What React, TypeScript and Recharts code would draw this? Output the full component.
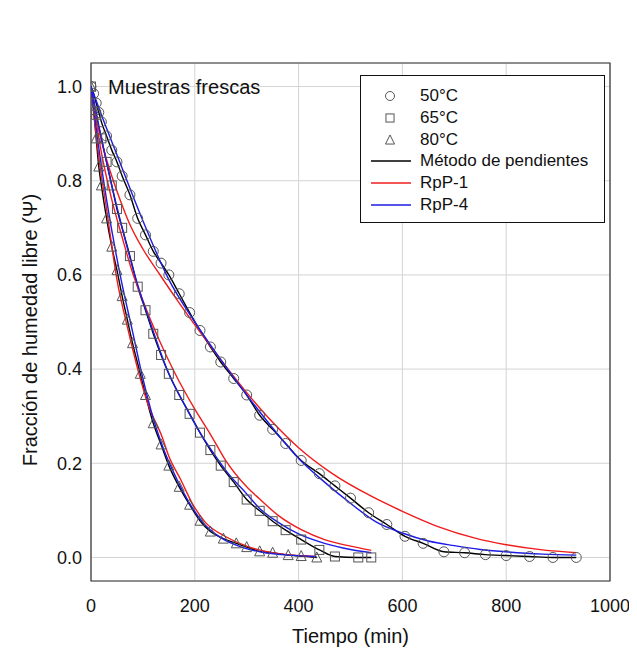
import React from 'react';
import {
  ComposedChart,
  Line,
  Scatter,
  XAxis,
  YAxis,
  CartesianGrid,
  Legend,
  ReferenceArea,
  ReferenceDot,
} from 'recharts';

const FONT = '"Liberation Sans", Arial, sans-serif';
const RED = '#f01c1c';
const BLUE = '#1c1ce6';
const MARKER = '#555';

const xTicks = [0, 200, 400, 600, 800, 1000];
const yTicks = [0, 0.2, 0.4, 0.6, 0.8, 1.0];

// datos experimentales (Ψ vs tiempo)
const t50 = [0, 5, 10, 15, 20, 30, 40, 50, 60, 75, 90, 105, 120, 135, 150, 170, 190, 210, 230, 250, 275, 300, 325, 350, 375, 405, 440, 470, 500, 535, 570, 605, 640, 680, 720, 760, 800, 845, 890, 935];
const psi50 = [1.0, 0.985, 0.965, 0.945, 0.925, 0.895, 0.865, 0.84, 0.81, 0.77, 0.72, 0.685, 0.65, 0.625, 0.6, 0.56, 0.52, 0.482, 0.447, 0.415, 0.38, 0.345, 0.302, 0.272, 0.242, 0.206, 0.178, 0.152, 0.126, 0.095, 0.07, 0.045, 0.03, 0.012, 0.01, 0.006, 0.004, 0.002, 0.0, 0.0];

const t65 = [0, 10, 20, 30, 40, 50, 60, 75, 90, 105, 120, 135, 150, 170, 190, 210, 230, 250, 275, 300, 325, 350, 375, 405, 440, 470, 515, 540];
const psi65 = [1.0, 0.94, 0.89, 0.84, 0.79, 0.74, 0.7, 0.64, 0.575, 0.525, 0.475, 0.43, 0.39, 0.345, 0.305, 0.265, 0.228, 0.195, 0.16, 0.123, 0.099, 0.077, 0.058, 0.038, 0.016, 0.002, 0.0, 0.0];

const t80 = [0, 5, 10, 15, 20, 30, 40, 50, 60, 70, 80, 95, 105, 120, 135, 150, 170, 190, 210, 230, 255, 280, 300, 325, 350, 380, 405, 435];
const psi80 = [1.0, 0.95, 0.89, 0.83, 0.79, 0.72, 0.66, 0.61, 0.555, 0.505, 0.455, 0.39, 0.345, 0.285, 0.24, 0.195, 0.15, 0.112, 0.078, 0.055, 0.04, 0.03, 0.022, 0.013, 0.01, 0.005, 0.003, 0.0];

// modelo RpP-1
const tRed50 = [0, 10, 20, 40, 60, 73, 100, 130, 160, 200, 250, 300, 350, 400, 465, 540, 600, 670, 740, 800, 870, 935];
const red50 = [1.0, 0.935, 0.885, 0.81, 0.748, 0.712, 0.655, 0.605, 0.556, 0.494, 0.42, 0.35, 0.287, 0.233, 0.178, 0.13, 0.098, 0.065, 0.041, 0.027, 0.016, 0.01];
const tRed65 = [0, 20, 40, 60, 80, 100, 130, 160, 200, 231, 260, 300, 324, 360, 407, 450, 500, 540];
const red65 = [1.0, 0.86, 0.76, 0.68, 0.605, 0.545, 0.465, 0.395, 0.315, 0.26, 0.205, 0.15, 0.125, 0.09, 0.058, 0.038, 0.024, 0.015];
const tRed80 = [0, 15, 30, 50, 70, 90, 110, 137, 150, 173, 195, 220, 260, 300, 324, 370, 434];
const red80 = [1.0, 0.85, 0.74, 0.59, 0.49, 0.4, 0.325, 0.256, 0.215, 0.165, 0.115, 0.075, 0.044, 0.024, 0.016, 0.007, 0.002];

// modelo RpP-4
const tBlue50 = [0, 20, 50, 100, 150, 200, 250, 300, 350, 400, 450, 500, 550, 600, 650, 700, 750, 800, 870, 935];
const blue50 = [1.0, 0.94, 0.855, 0.715, 0.59, 0.5, 0.42, 0.345, 0.275, 0.21, 0.16, 0.115, 0.075, 0.052, 0.035, 0.025, 0.017, 0.012, 0.007, 0.005];
const tBlue65 = [0, 20, 40, 60, 87, 120, 150, 180, 210, 240, 263, 300, 324, 360, 400, 450, 500, 540];
const blue65 = [1.0, 0.89, 0.79, 0.7, 0.59, 0.48, 0.39, 0.325, 0.265, 0.215, 0.18, 0.135, 0.105, 0.075, 0.05, 0.03, 0.017, 0.01];
const tBlue80 = [0, 15, 30, 58, 80, 100, 120, 140, 166, 190, 215, 250, 290, 330, 380, 434];
const blue80 = [1.0, 0.87, 0.76, 0.59, 0.48, 0.38, 0.295, 0.23, 0.165, 0.115, 0.075, 0.042, 0.022, 0.011, 0.005, 0.002];

const legendItems = [
  { label: '50°C', marker: 'circle' },
  { label: '65°C', marker: 'square' },
  { label: '80°C', marker: 'triangle' },
  { label: 'Método de pendientes', color: '#000' },
  { label: 'RpP-1', color: RED },
  { label: 'RpP-4', color: BLUE },
];

const zip = (ts: number[], vs: number[]) => ts.map((t, i) => ({ t, v: vs[i] }));

const obs = [
  { key: '50', data: zip(t50, psi50), marker: 'circle' },
  { key: '65', data: zip(t65, psi65), marker: 'square' },
  { key: '80', data: zip(t80, psi80), marker: 'triangle' },
];
const redFits = [zip(tRed50, red50), zip(tRed65, red65), zip(tRed80, red80)];
const blueFits = [zip(tBlue50, blue50), zip(tBlue65, blue65), zip(tBlue80, blue80)];

const drawMarker = (kind: string, cx: number, cy: number, s = 1) => {
  const common = { fill: 'none', stroke: MARKER, strokeWidth: 1 };
  if (kind === 'circle') return <circle cx={cx} cy={cy} r={5 * s} {...common} />;
  if (kind === 'square') return <rect x={cx - 4.5 * s} y={cy - 4.5 * s} width={9 * s} height={9 * s} {...common} />;
  const h = 9 * s;
  return (
    <polygon
      points={`${cx},${cy - h / 2 - 1} ${cx - 5 * s},${cy + h / 2} ${cx + 5 * s},${cy + h / 2}`}
      {...common}
    />
  );
};

const LegendBox = () => (
  <div
    style={{
      position: 'relative',
      width: 245,
      height: 148,
      boxSizing: 'border-box',
      border: '1.5px solid #111',
      background: '#fff',
      fontFamily: FONT,
      fontSize: 17,
      color: '#111',
    }}
  >
    {legendItems.map((item, i) => (
      <div key={item.label} style={{ position: 'absolute', left: 0, top: 9 + i * 21.8, height: 22, width: 240 }}>
        <svg width={56} height={22} style={{ position: 'absolute', left: 0, top: 0 }}>
          {item.marker
            ? drawMarker(item.marker, 29, 11, 0.9)
            : <line x1={10} x2={50} y1={11} y2={11} stroke={item.color} strokeWidth={1.5} />}
        </svg>
        <span style={{ position: 'absolute', left: 59, top: 0, lineHeight: '22px', whiteSpace: 'nowrap' }}>
          {item.label}
        </span>
      </div>
    ))}
  </div>
);

const App = () => {
  return (
    <ComposedChart
      width={629}
      height={646}
      margin={{ top: 55, right: 27, bottom: 0, left: 0 }}
      style={{ fontFamily: FONT }}
    >
      <CartesianGrid stroke='#d4d4d4' strokeWidth={1} />
      <XAxis
        type='number'
        dataKey='t'
        domain={[0, 1000]}
        ticks={xTicks}
        allowDataOverflow
        height={73}
        axisLine={false}
        tickLine={false}
        tickMargin={12}
        tick={{ fill: '#111', fontSize: 18, fontFamily: FONT }}
        label={{
          content: (p: any) => (
            <text
              x={p.viewBox.x + p.viewBox.width / 2}
              y={p.viewBox.y + 55}
              textAnchor='middle'
              dominantBaseline='central'
              fill='#111'
              fontSize={20}
              fontFamily={FONT}
            >
              Tiempo (min)
            </text>
          ),
        }}
      />
      <YAxis
        type='number'
        domain={[-0.05, 1.05]}
        ticks={yTicks}
        allowDataOverflow
        width={83}
        axisLine={false}
        tickLine={false}
        tickMargin={3}
        tickFormatter={(v: number) => v.toFixed(1)}
        tick={{ fill: '#111', fontSize: 18, fontFamily: FONT }}
        label={{
          content: (p: any) => {
            const x = p.viewBox.x + 21.5;
            const y = p.viewBox.y + p.viewBox.height / 2 + 8;
            return (
              <text
                x={x}
                y={y}
                transform={`rotate(-90 ${x} ${y})`}
                textAnchor='middle'
                dominantBaseline='central'
                fill='#111'
                fontSize={20}
                fontFamily={FONT}
              >
                Fracción de humedad libre (Ψ)
              </text>
            );
          },
        }}
      />
      <ReferenceArea x1={0} x2={1000} y1={-0.05} y2={1.05} fill='none' stroke='#333' strokeWidth={1.2} />

      {obs.map((o) => (
        <Line
          key={'blk' + o.key}
          data={o.data}
          dataKey='v'
          type='monotone'
          stroke='#000'
          strokeWidth={1.4}
          dot={false}
          isAnimationActive={false}
        />
      ))}
      {redFits.map((d, i) => (
        <Line
          key={'red' + i}
          data={d}
          dataKey='v'
          type='monotone'
          stroke={RED}
          strokeWidth={1.4}
          dot={false}
          isAnimationActive={false}
        />
      ))}
      {blueFits.map((d, i) => (
        <Line
          key={'blue' + i}
          data={d}
          dataKey='v'
          type='monotone'
          stroke={BLUE}
          strokeWidth={1.4}
          dot={false}
          isAnimationActive={false}
        />
      ))}
      {obs.map((o) => (
        <Scatter
          key={'sc' + o.key}
          data={o.data}
          dataKey='v'
          isAnimationActive={false}
          shape={(p: any) => drawMarker(o.marker, p.cx, p.cy)}
        />
      ))}

      <ReferenceDot
        x={0}
        y={1}
        r={0}
        fill='none'
        stroke='none'
        label={{ value: 'Muestras frescas', position: 'right', offset: 17, fill: '#111', fontSize: 20, fontFamily: FONT }}
      />
      <Legend
        layout='vertical'
        align='center'
        verticalAlign='middle'
        content={<LegendBox />}
        wrapperStyle={{ position: 'absolute', top: 67, left: 352, width: 245, height: 148 }}
      />
    </ComposedChart>
  );
};

export default App;
